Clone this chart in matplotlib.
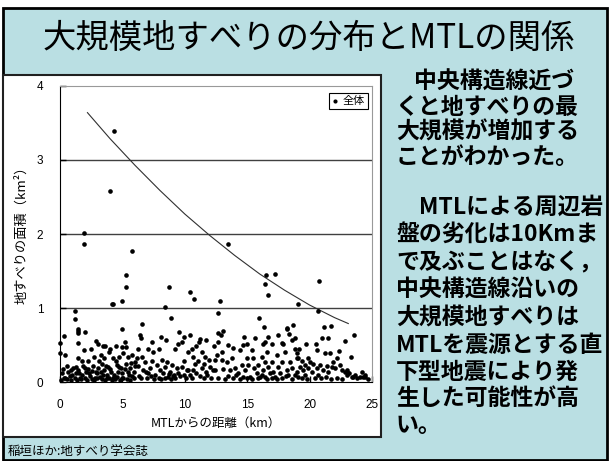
import numpy as np
import matplotlib
matplotlib.use('Agg')
import matplotlib.pyplot as plt
from matplotlib.patches import Rectangle

# distance from MTL (km) and landslide area (km2)
dist_km = [
    # large ones
    4.33, 4.03, 1.95, 1.95, 5.77, 13.43, 5.26, 5.26, 8.76, 10.44, 10.74, 16.48, 17.23, 16.43, 16.64,
    20.75, 4.14, 4.22, 4.94, 8.41, 8.87, 12.82, 12.69, 19.1, 20.65, 1.17, 1.17, 15.97, 16.37, 6.57,
    18.7, 18.22, 21.18, 21.71, 18.17, 1.44, 4.94,
    # middle
    1.42, 1.42, 1.98, 0.32, 0.0, 1.41, 2.88, 3.02, 0.0, 0.43, 1.95, 2.46, 3.61, 3.93, 4.49, 4.94,
    5.26, 5.21, 3.42, 4.0,
    6.44, 6.49, 7.35, 8.09, 8.47, 9.56, 9.96, 10.44, 9.48, 9.75, 9.21, 10.9, 11.14, 11.24, 11.7,
    12.36, 6.28, 7.08, 7.48, 7.93, 10.28, 10.6, 11.35,
    12.63, 13.09, 12.9, 12.69, 13.49, 13.89, 14.42, 14.69, 14.96, 14.77, 15.63, 16.29, 16.43, 16.64,
    17.01, 17.49, 17.76, 17.89, 18.35, 18.57, 18.83,
    23.56, 22.84, 20.97, 21.5, 20.49, 19.74, 19.17, 21.63, 22.38, 18.83, 18.96, 21.23, 20.57, 23.29,
    # lower band 0-6 km
    1.47, 1.74, 2.75, 3.26, 3.55, 4.27, 4.73, 5.07, 5.47, 5.74, 6.01, 4.46, 3.13, 2.22,
    0.13, 0.40, 0.67, 0.80, 1.07, 1.26, 1.47, 1.60, 1.87, 2.06, 2.27, 2.40, 2.67, 2.86, 3.07, 3.21,
    3.39, 3.55, 3.74, 3.87, 4.09, 4.27, 4.54, 4.67, 4.89, 5.07, 5.26, 5.42, 5.61, 5.80, 6.01,
    0.05, 0.3, 0.55, 0.9, 1.2, 1.35, 1.7, 2.0, 2.15, 2.55, 2.7, 2.95, 3.35, 3.6, 3.9, 4.15, 4.4,
    4.8, 5.0, 5.35, 5.6, 5.9,
    0.25, 0.55, 0.85, 1.0, 1.3, 1.55, 1.8, 2.0, 2.35, 2.6, 2.8, 3.0, 3.3, 3.45, 3.65, 3.8, 4.0,
    4.35, 4.6, 4.75, 5.0, 5.2, 5.5, 5.7, 5.9,
    # lower band 6-12.5 km
    6.14, 6.55, 6.81, 6.22, 6.68, 7.75, 8.01, 8.28, 8.41, 8.63, 8.81, 8.95, 9.16, 9.35, 9.48, 9.75,
    9.96, 10.15, 7.61, 7.08, 7.21, 6.95, 11.08, 11.35, 11.67, 12.02, 12.28, 12.42, 10.42, 10.28,
    10.68, 10.68, 11.62, 11.94,
    6.3, 6.5, 6.9, 7.3, 7.5, 7.9, 8.1, 8.45, 8.7, 8.9, 9.05, 9.25, 9.6, 9.9, 10.1, 10.55, 10.9,
    11.2, 11.5, 11.8, 12.1, 7.4, 8.2, 8.6, 10.8, 11.5,
    # lower band 12.5-19 km
    12.55, 12.95, 13.0, 13.36, 13.76, 12.42, 13.09, 13.62, 14.03, 14.08, 14.29, 14.56, 14.82, 14.96,
    15.09, 15.36, 15.49, 15.57, 15.76, 15.89, 16.03, 16.16, 16.29, 16.43, 16.56, 16.69, 16.83,
    16.96, 17.09, 17.23, 17.36, 17.49, 17.63, 17.76, 18.03, 18.17, 18.30, 18.43, 18.57, 18.83,
    18.96, 15.22, 16.43, 14.69,
    12.7, 13.2, 13.5, 13.9, 14.4, 15.0, 15.4, 15.9, 16.2, 16.6, 17.0, 17.4, 17.8, 18.1, 18.6,
    # lower band 19-25 km
    19.1, 19.36, 19.9, 20.03, 20.3, 19.63, 19.23, 18.96, 19.5, 19.9, 20.17, 20.57, 20.83, 21.1,
    21.37, 21.5, 21.77, 22.04, 22.44, 22.57, 22.84, 22.97, 23.1, 23.37, 23.64, 24.17, 24.31, 24.44,
    21.9, 22.17, 20.7, 19.63, 19.1, 24.44, 24.04, 23.5, 23.18, 22.97,
    19.4, 19.8, 20.4, 20.9, 21.3, 21.7, 22.2, 22.6, 23.8, 24.7,
]
area_km2 = [
    3.39, 2.58, 2.01, 1.86, 1.77, 1.86, 1.45, 1.28, 1.28, 1.22, 1.12, 1.45, 1.46, 1.32, 1.18,
    1.36, 1.06, 1.05, 1.10, 1.01, 0.87, 1.09, 0.93, 1.06, 0.96, 0.96, 0.85, 0.87, 0.75, 0.79,
    0.77, 0.72, 0.74, 0.76, 0.725, 0.72, 0.72,
    0.69, 0.66, 0.68, 0.62, 0.53, 0.53, 0.55, 0.52, 0.39, 0.36, 0.43, 0.45, 0.48, 0.41, 0.49, 0.47,
    0.47, 0.54, 0.49, 0.44,
    0.64, 0.60, 0.54, 0.61, 0.57, 0.67, 0.61, 0.63, 0.52, 0.54, 0.45, 0.49, 0.54, 0.58, 0.57,
    0.48, 0.45, 0.45, 0.41, 0.44, 0.41, 0.44, 0.41,
    0.66, 0.69, 0.64, 0.54, 0.50, 0.455, 0.43, 0.50, 0.52, 0.61, 0.59, 0.52, 0.545, 0.61,
    0.52, 0.635, 0.53, 0.52, 0.655, 0.57, 0.59,
    0.64, 0.55, 0.60, 0.59, 0.51, 0.51, 0.45, 0.39, 0.42, 0.45, 0.39, 0.39, 0.43, 0.34,
    0.32, 0.29, 0.34, 0.37, 0.32, 0.32, 0.34, 0.39, 0.34, 0.36, 0.27, 0.28, 0.29, 0.29,
    0.12, 0.06, 0.14, 0.08, 0.185, 0.12, 0.16, 0.06, 0.22, 0.14, 0.17, 0.08, 0.22, 0.13, 0.185, 0.07,
    0.25, 0.16, 0.10, 0.20, 0.14, 0.06, 0.23, 0.13, 0.185, 0.06, 0.24, 0.14, 0.185, 0.08, 0.22,
    0.03, 0.05, 0.04, 0.03, 0.05, 0.03, 0.04, 0.05, 0.03, 0.04, 0.03, 0.05, 0.04, 0.03, 0.05, 0.03, 0.04,
    0.03, 0.05, 0.04, 0.03, 0.05,
    0.18, 0.22, 0.16, 0.10, 0.20, 0.12, 0.09, 0.19, 0.12, 0.15, 0.06, 0.12, 0.14, 0.09, 0.21, 0.06, 0.18,
    0.10, 0.07, 0.20, 0.12, 0.17, 0.10, 0.26, 0.13,
    0.32, 0.34, 0.27, 0.21, 0.16, 0.23, 0.16, 0.12, 0.20, 0.07, 0.14, 0.23, 0.10, 0.185, 0.12, 0.20,
    0.28, 0.16, 0.10, 0.12, 0.195, 0.06, 0.28, 0.185, 0.14, 0.20, 0.16, 0.30, 0.10, 0.16,
    0.16, 0.34, 0.34, 0.30,
    0.08, 0.05, 0.13, 0.08, 0.04, 0.06, 0.04, 0.05, 0.11, 0.04, 0.08, 0.05, 0.08, 0.09, 0.06, 0.05, 0.12,
    0.08, 0.06, 0.10, 0.05, 0.28, 0.30, 0.27, 0.24, 0.24,
    0.365, 0.41, 0.297, 0.275, 0.32, 0.16, 0.17, 0.16, 0.185, 0.095, 0.12, 0.23, 0.16, 0.32,
    0.23, 0.43, 0.32, 0.185, 0.12, 0.23, 0.063, 0.34, 0.16, 0.275, 0.41, 0.20, 0.12,
    0.275, 0.14, 0.072, 0.365, 0.20, 0.12, 0.275, 0.41, 0.16, 0.095, 0.275, 0.185, 0.095,
    0.32, 0.072, 0.063, 0.063,
    0.05, 0.04, 0.08, 0.05, 0.04, 0.06, 0.04, 0.05, 0.09, 0.04, 0.06, 0.04, 0.05, 0.08, 0.04,
    0.32, 0.29, 0.32, 0.275, 0.25, 0.23, 0.20, 0.14, 0.16, 0.185, 0.14, 0.185, 0.23, 0.16,
    0.22, 0.14, 0.20, 0.185, 0.23, 0.16, 0.14, 0.095, 0.12, 0.072, 0.095, 0.14, 0.072, 0.063,
    0.275, 0.32, 0.095, 0.095, 0.072, 0.10, 0.07, 0.07, 0.12, 0.16,
    0.05, 0.04, 0.06, 0.05, 0.07, 0.04, 0.06, 0.04, 0.05, 0.04,
]

# trend line (upper envelope)
trend_x = [2.2, 4, 6, 8, 10, 12, 14, 16, 18, 20, 22, 23.1]
trend_y = [3.64, 3.29, 2.93, 2.59, 2.27, 1.98, 1.71, 1.46, 1.24, 1.04, 0.87, 0.79]

x_ticks = [0, 5, 10, 15, 20, 25]
y_ticks = [0, 1, 2, 3, 4]

title = '大規模地すべりの分布とMTLの関係'
side_lines = [
    '中央構造線近づ',
    'くと地すべりの最',
    '大規模が増加する',
    'ことがわかった。',
    '　MTLによる周辺岩',
    '盤の劣化は10Kmま',
    'で及ぶことはなく，',
    '中央構造線沿いの',
    '大規模地すべりは',
    'MTLを震源とする直',
    '下型地震により発',
    '生した可能性が高',
    'い。',
]
side_y = [82, 107, 132, 158, 207, 235, 263, 290, 317, 345, 372, 398, 425]
side_x = [414, 396, 396, 396, 396, 396, 396, 396, 396, 396, 396, 396, 396]
source = '稲垣ほか:地すべり学会誌'

W, H = 610, 461
JP = ['Noto Sans CJK JP', 'DejaVu Sans']
BG = '#BADFE3'


def fx(px):
    return px / W


def fy(py):
    return 1 - py / H


fig = plt.figure(figsize=(W / 100, H / 100), dpi=100)
fig.patch.set_facecolor('white')

# slide background, frame and white chart panel (kept under the axes)
fig.add_artist(Rectangle((fx(3), fy(460)), fx(604), 452 / H, transform=fig.transFigure,
                         facecolor=BG, edgecolor='black', lw=2, zorder=-10))
fig.add_artist(Rectangle((fx(3), fy(437)), fx(378), 362 / H, transform=fig.transFigure,
                         facecolor='white', edgecolor='#202020', lw=1.5, zorder=-9))

fig.text(fx(309), fy(38), title, fontsize=24, family=JP, ha='center', va='center')

for txt, xx, yy in zip(side_lines, side_x, side_y):
    fig.text(fx(xx), fy(yy), txt, fontsize=16.5, family=JP, fontweight='bold',
             ha='left', va='center')

fig.text(fx(8), fy(452), source, fontsize=9, family=JP, ha='left', va='center')

# scatter plot
ax = fig.add_axes([fx(60), fy(382), (372 - 60) / W, (382 - 86) / H])
ax.set_facecolor('white')
ax.scatter(dist_km, area_km2, s=11, color='black', lw=0, label='全体', zorder=3, clip_on=False)
ax.plot(trend_x, trend_y, color='#303030', lw=0.8, zorder=2)

ax.set_xlim(0, 25)
ax.set_ylim(0, 4)
ax.set_xticks(x_ticks)
ax.set_yticks(y_ticks)
ax.tick_params(direction='in', length=4, width=1, labelsize=8.5, pad=12)
for lab in ax.get_xticklabels() + ax.get_yticklabels():
    lab.set_family('Liberation Sans')
for yv in y_ticks[1:-1]:
    ax.axhline(yv, color='#404040', lw=1, zorder=1)
ax.spines['top'].set_color('#999999')
ax.spines['right'].set_color('#999999')
ax.spines['left'].set_color('black')
ax.spines['bottom'].set_color('black')

fig.text(fx(216), fy(423), 'MTLからの距離（km）', fontsize=9, family=JP, ha='center', va='center')
fig.text(fx(22), fy(232), '地すべりの面積（km²）', fontsize=9.5, family=JP, ha='center', va='center',
         rotation=90)

leg = ax.legend(loc='upper right', bbox_to_anchor=(0.987, 0.976), borderaxespad=0,
                prop={'family': JP, 'size': 8}, fancybox=False, framealpha=1,
                handlelength=0.6, handletextpad=0.4, borderpad=0.25, markerscale=0.9)
leg.get_frame().set_edgecolor('black')
leg.get_frame().set_linewidth(0.8)

plt.savefig('out.png', dpi=100)
plt.close()
